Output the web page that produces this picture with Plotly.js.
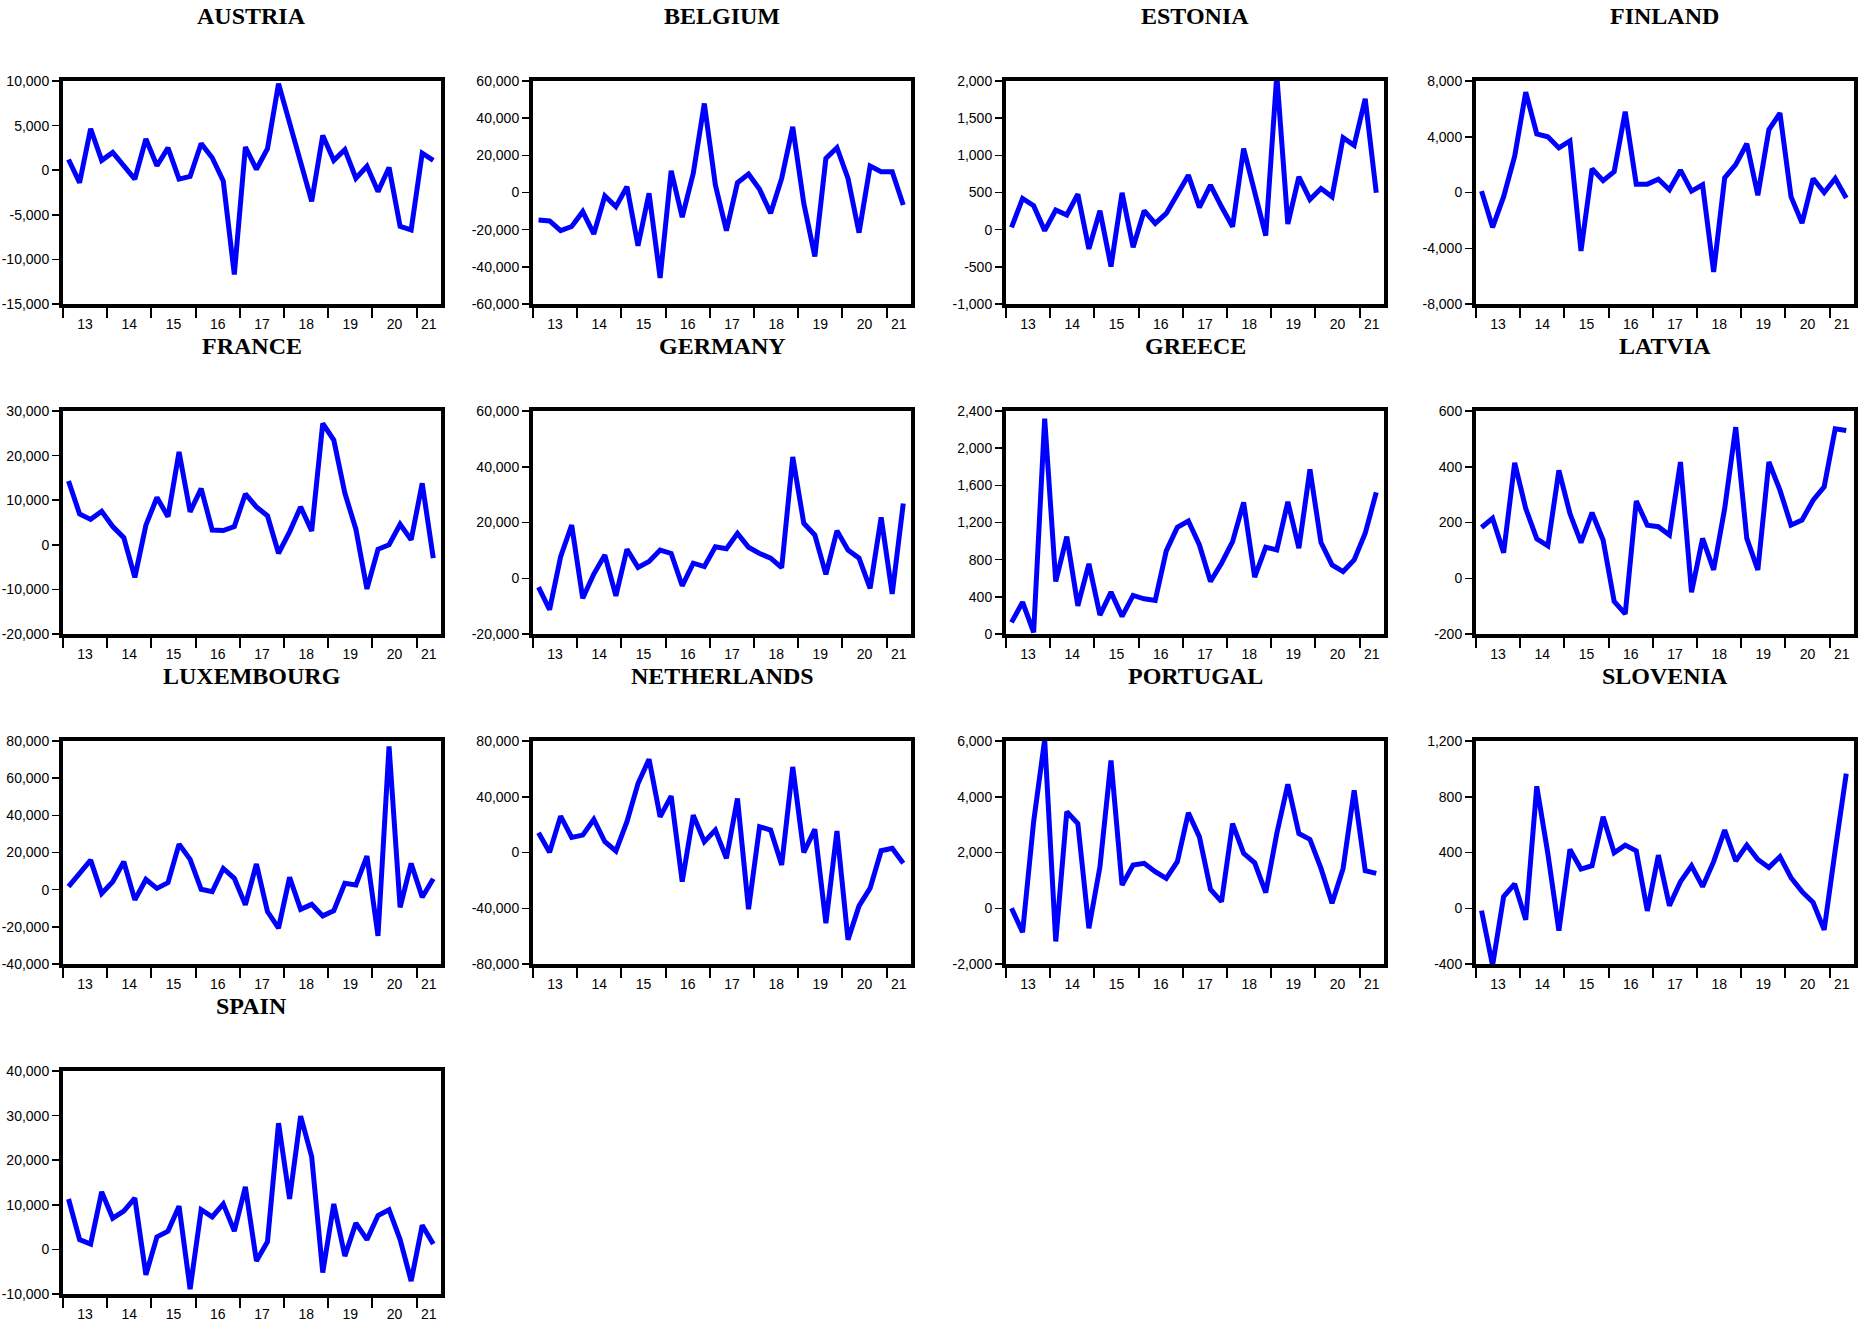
<!DOCTYPE html>
<html>
<head>
<meta charset="utf-8">
<script src="https://cdn.plot.ly/plotly-3.0.1.min.js"></script>
<style>
  html, body { margin: 0; padding: 0; background: #fff; }
  #chart { width: 1865px; height: 1324px; }
</style>
</head>
<body>
<div id="chart"></div>
<script>
// quarterly observations 2013Q1 .. 2021Q2
const countries = ['AUSTRIA', 'BELGIUM', 'ESTONIA', 'FINLAND', 'FRANCE', 'GERMANY', 'GREECE',
  'LATVIA', 'LUXEMBOURG', 'NETHERLANDS', 'PORTUGAL', 'SLOVENIA', 'SPAIN'];
const yearLabels = ['13', '14', '15', '16', '17', '18', '19', '20', '21'];

const austria = [1200, -1400, 4650, 1100, 2000, 400, -1000, 3500, 500, 2500, -1000, -700, 3000, 1400, -1200, -11700,
  2600, 100, 2400, 9700, 5300, 900, -3500, 3900, 1100, 2300, -900, 450, -2400, 300, -6300, -6700, 1900, 1100];
const belgium = [-14800, -15300, -20500, -18300, -10300, -22300, -1900, -7600, 3100, -28700, -400, -46000, 11700, -13300, 10300, 47900,
  4000, -20500, 5300, 9900, 1700, -11200, 7600, 35300, -5800, -34400, 18300, 24100, 7600, -21600, 14200, 11200, 11200, -6700];
const estonia = [31, 420, 322, -13, 264, 197, 478, -259, 255, -496, 496, -237, 255, 85, 219, 487,
  733, 300, 599, 308, 40, 1091, 487, -80, 2080, 76, 711, 407, 554, 443, 1238, 1135, 1761, 496];
const finland = [100, -2500, -300, 2600, 7200, 4200, 4000, 3200, 3700, -4200, 1700, 850, 1500, 5800, 600, 600,
  950, 200, 1600, 100, 550, -5700, 1050, 2000, 3500, -200, 4500, 5700, -300, -2200, 1000, 0, 1000, -400];
const france = [14300, 6900, 5700, 7500, 4100, 1600, -7300, 4400, 10600, 6300, 20800, 7400, 12600, 3300, 3200, 4100,
  11400, 8500, 6500, -1900, 2900, 8500, 3100, 27200, 23500, 11600, 3500, -9900, -1000, 0, 4600, 1100, 13800, -3000];
const germany = [-3200, -11300, 7700, 19100, -7200, 1500, 8300, -6300, 10400, 3900, 6000, 10100, 8900, -2700, 5400, 4200,
  11300, 10600, 16100, 11100, 8900, 7200, 3800, 43500, 19700, 15500, 1400, 17000, 10100, 7200, -3600, 21800, -5600, 26800];
const greece = [125, 343, 18, 2318, 565, 1048, 304, 755, 204, 451, 190, 415, 379, 361, 894, 1148,
  1216, 958, 565, 762, 994, 1416, 612, 934, 905, 1423, 923, 1771, 984, 744, 672, 798, 1084, 1524];
const latvia = [182, 215, 92, 414, 250, 141, 116, 387, 232, 128, 235, 137, -83, -128, 277, 190,
  185, 155, 417, -50, 143, 30, 250, 542, 143, 30, 417, 316, 191, 209, 280, 328, 536, 530];
const luxembourg = [1600, 8800, 15900, -2000, 4300, 15000, -5500, 5500, 700, 3800, 24500, 16300, 200, -1100, 11400, 6100,
  -8200, 13800, -11800, -20700, 6600, -10600, -7900, -14100, -11300, 3400, 2500, 18100, -24900, 77100, -9500, 14100, -4100, 5900];
const netherlands = [14200, 100, 26100, 10800, 12500, 23700, 7700, 1100, 22100, 49500, 66900, 25600, 40400, -20900, 26800, 7700,
  16100, -4200, 38700, -40700, 18500, 16100, -8900, 61400, 100, 16600, -50700, 15400, -62600, -38300, -25600, 1300, 3000, -7700];
const portugal = [0, -860, 3100, 6050, -1190, 3460, 3040, -720, 1490, 5300, 830, 1550, 1610, 1310, 1070, 1670,
  3420, 2560, 680, 240, 3040, 1970, 1630, 560, 2680, 4450, 2680, 2470, 1430, 180, 1430, 4230, 1350, 1250];
const slovenia = [-17, -410, 83, 174, -83, 875, 393, -160, 422, 281, 305, 656, 398, 453, 412, -19,
  381, 19, 191, 305, 155, 334, 560, 339, 453, 350, 293, 370, 219, 119, 41, -155, 417, 966];
const spain = [11300, 2200, 1200, 12900, 7000, 8600, 11500, -5700, 2800, 4100, 9700, -8900, 8900, 7300, 10200, 4100,
  14000, -2600, 1700, 28300, 11300, 29900, 20800, -5200, 10200, -1500, 5900, 2200, 7600, 8900, 2200, -7100, 5400, 1200];

const austriaTicks = [-15000, -10000, -5000, 0, 5000, 10000];
const belgiumTicks = [-60000, -40000, -20000, 0, 20000, 40000, 60000];
const estoniaTicks = [-1000, -500, 0, 500, 1000, 1500, 2000];
const finlandTicks = [-8000, -4000, 0, 4000, 8000];
const franceTicks = [-20000, -10000, 0, 10000, 20000, 30000];
const germanyTicks = [-20000, 0, 20000, 40000, 60000];
const greeceTicks = [0, 400, 800, 1200, 1600, 2000, 2400];
const latviaTicks = [-200, 0, 200, 400, 600];
const luxembourgTicks = [-40000, -20000, 0, 20000, 40000, 60000, 80000];
const netherlandsTicks = [-80000, -40000, 0, 40000, 80000];
const portugalTicks = [-2000, 0, 2000, 4000, 6000];
const sloveniaTicks = [-400, 0, 400, 800, 1200];
const spainTicks = [-10000, 0, 10000, 20000, 30000, 40000];

const series = [austria, belgium, estonia, finland, france, germany, greece, latvia, luxembourg, netherlands, portugal, slovenia, spain];
const ticks = [austriaTicks, belgiumTicks, estoniaTicks, finlandTicks, franceTicks, germanyTicks, greeceTicks,
  latviaTicks, luxembourgTicks, netherlandsTicks, portugalTicks, sloveniaTicks, spainTicks];

// panel geometry in pixels
const W = 1865, H = 1324;
const colLeft = [63, 533, 1006, 1476];
const panelW = 378;
const rowTop = [81, 411, 741, 1071];
const panelH = 223;
const xMax = 33.7;

const yearEdges = yearLabels.map((_, k) => 4 * k - 0.5);
const yearPos = yearLabels.map((_, k) => k === yearLabels.length - 1 ? (4 * k - 0.5 + xMax) / 2 : 4 * k + 1.5);

const tickFont = { family: 'Liberation Sans, Arial, sans-serif', size: 14, color: '#000' };

const traces = [];
const layout = {
  width: W, height: H,
  margin: { l: 0, r: 0, t: 0, b: 0 },
  paper_bgcolor: '#fff',
  plot_bgcolor: '#fff',
  showlegend: false,
  annotations: []
};

series.forEach((vals, i) => {
  const c = i % 4, r = Math.floor(i / 4);
  const sfx = i === 0 ? '' : String(i + 1);
  const x0 = colLeft[c] / W, x1 = (colLeft[c] + panelW) / W;
  const y1 = 1 - rowTop[r] / H, y0 = 1 - (rowTop[r] + panelH) / H;
  const tv = ticks[i];

  traces.push({
    type: 'scatter',
    mode: 'lines',
    x: vals.map((_, k) => k),
    y: vals,
    xaxis: 'x' + sfx,
    yaxis: 'y' + sfx,
    line: { color: '#0000ff', width: 5 },
    hoverinfo: 'y'
  });

  layout['xaxis' + sfx] = {
    domain: [x0, x1],
    anchor: 'y' + sfx,
    range: [-0.5, xMax],
    showline: true, mirror: true, linewidth: 4, linecolor: '#000',
    showgrid: false, zeroline: false,
    tickmode: 'array', tickvals: yearPos, ticktext: yearLabels,
    ticks: '', ticklabelstandoff: 4,
    tickfont: tickFont,
    minor: { tickmode: 'array', tickvals: yearEdges, ticks: 'outside', ticklen: 10, tickwidth: 2, tickcolor: '#000', showgrid: false },
    fixedrange: true
  };
  layout['yaxis' + sfx] = {
    domain: [y0, y1],
    anchor: 'x' + sfx,
    range: [tv[0], tv[tv.length - 1]],
    showline: true, mirror: true, linewidth: 4, linecolor: '#000',
    showgrid: false, zeroline: false,
    tickmode: 'array', tickvals: tv, ticktext: tv.map(v => v.toLocaleString('en-US')),
    ticks: 'outside', ticklen: 7, tickwidth: 1.5, tickcolor: '#000',
    tickfont: tickFont,
    fixedrange: true
  };

  layout.annotations.push({
    text: '<b>' + countries[i] + '</b>',
    xref: 'paper', yref: 'paper',
    x: (x0 + x1) / 2, y: 1 - (rowTop[r] - 65) / H,
    xanchor: 'center', yanchor: 'middle',
    showarrow: false,
    font: { family: 'Liberation Serif, Times New Roman, serif', size: 24, color: '#000' }
  });
});

Plotly.newPlot('chart', traces, layout, { displayModeBar: false, staticPlot: true });
</script>
</body>
</html>
